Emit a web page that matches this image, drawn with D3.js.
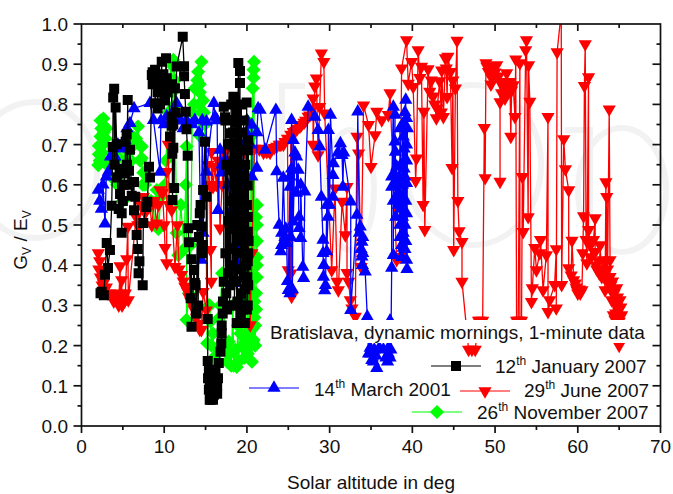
<!DOCTYPE html>
<html><head><meta charset="utf-8">
<script src="https://cdn.jsdelivr.net/npm/d3@7/dist/d3.min.js"></script>
<style>html,body{margin:0;padding:0;background:#fff}svg{display:block}text{font-family:"Liberation Sans",Arial,sans-serif;fill:#111}</style>
</head><body><svg id="c" width="673" height="494"></svg>
<script>
// [solar altitude, Gv/Ev] pairs
const november2007 = [[2.03,.649],[2.1,.676],[2.1,.697],[2.3,.72],[2.4,.74],[2.64,.765],[2.8,.745],[2.9,.715],[2.5,.68],[2.8,.655],[3.6,.62],[4.3,.6],[5,.56],[5.5,.7],[6.2,.72],[6.83,.745],[6.6,.715],[7.28,.695],[7.28,.666],[7.47,.63],[7.67,.6],[8.4,.56],[9.09,.587],[9.6,.57],[10.2,.66],[10.5,.78],[10.7,.86],[11.1,.911],[11.3,.86],[11.5,.48],[11.7,.425],[12,.55],[12.4,.44],[12.7,.695],[12.7,.264],[13,.33],[13.4,.78],[13.7,.84],[14.1,.881],[14.5,.906],[14.3,.85],[14.7,.81],[14.5,.78],[14.9,.75],[15.2,.206],[15.5,.3],[15.9,.23],[16.35,.194],[16.8,.3],[17,.38],[17.4,.2],[17.95,.18],[18.3,.3],[18.77,.147],[18.9,.25],[19.4,.197],[19.7,.32],[19.9,.22],[20.2,.36],[20.6,.16],[20.8,.214],[20.8,.866],[20.8,.886],[20.86,.906],[20.6,.5],[21,.25],[20.9,.27],[21.1,.33],[21.2,.37],[21.2,.42],[21.2,.46],[21.2,.5],[21.2,.55]];
const novemberMore = [[15.6,.26],[15.7,.2],[16,.17],[15.4,.3],[17.6,.16],[17.8,.21],[18.1,.15],[18.4,.15],[18.6,.19],[19,.16],[19.2,.23],[19.7,.17],[20.1,.18],[20.4,.2],[20.6,.24],[21,.2],[20.9,.31],[21.1,.29],[21.2,.4],[21.1,.52],[16.7,.27],[17.2,.3],[2.2,.66],[2.6,.7],[2.7,.73],[3,.74],[2.3,.76],[4.4,.67],[4.8,.63],[5.3,.66],[5.7,.68],[6,.66],[6.4,.7],[7,.7],[7.1,.66],[7.4,.6],[8.8,.5],[9.3,.49],[10.1,.6],[10.8,.9],[11,.83],[11.3,.8],[13.6,.8],[14,.86],[14.3,.83],[14.2,.8],[14.8,.78],[14.4,.72],[12.6,.6],[13.2,.45],[20.7,.84],[20.75,.74],[20.5,.72],[20,.76],[19.9,.48],[19.8,.55],[20.2,.62]];
const june2007 = [[2.03,.43],[2.2,.41],[2.4,.385],[2.64,.355],[3,.345],[3.44,.33],[3.84,.318],[4.1,.325],[4.4,.31],[4.7,.33],[5.03,.305],[5.3,.33],[5.66,.313],[4.86,.363],[4.66,.398],[5.46,.415],[5.6,.496],[6.8,.5],[7.47,.57],[8.28,.545],[9.09,.504],[9.49,.587],[10.1,.443],[10.3,.405],[10.3,.632],[10.5,.7],[10.9,.537],[11.3,.396],[11.6,.5],[12.1,.376],[12.5,.347],[13,.32],[13.6,.29],[14.5,.239],[14.7,.334],[15.1,.288],[15.6,.438],[15.7,.359],[15.7,.682],[15.9,.595],[16.1,.645],[16.75,.492],[17.55,.662],[17.95,.703],[18.77,.7],[19.5,.69],[20.4,.251],[20.6,.43],[21.5,.688],[22.2,.686],[22.4,.682],[23,.688],[23.6,.695],[24.1,.7],[24.6,.707],[25,.388],[25.3,.38],[25.4,.322],[25.6,.732],[26.1,.74],[26.6,.749],[27.1,.76],[27.6,.773],[28,.815],[28,.7],[28.2,.845],[28.4,.865],[28.6,.674],[28.8,.794],[29,.927],[29.3,.906],[29.4,.778],[30.25,.388],[30.65,.591],[30.9,.359],[31.05,.338],[31.5,.558],[31.9,.475],[32.1,.595],[32.1,.381],[32.3,.359],[32.5,.313],[32.7,.293],[33.1,.272],[33.3,.72],[33.5,.678],[33.8,.396],[34.1,.798],[34.7,.749],[35,.645],[35.5,.724],[35.7,.782],[36.3,.761],[37.1,.774],[37.3,.828],[38.1,.413],[38.5,.421],[38.7,.89],[39.3,.96],[39.5,.852],[39.9,.906],[40.1,.844],[40.4,.61],[40.5,.666],[40.7,.935],[40.9,.866],[41.1,.894],[41.3,.55],[41.4,.782],[41.5,.488],[41.9,.888],[42.1,.832],[42.5,.82],[42.9,.766],[43.3,.858],[43.55,.885],[43.75,.769],[44,.915],[44.2,.819],[44.3,.919],[44.6,.881],[44.8,.642],[45,.438],[45.2,.84],[45.4,.959],[45.5,.56],[45.65,.485],[46,.458],[46,.359],[47.2,.19],[48.2,.262],[48.7,.742],[48.8,.617],[48.9,.903],[49.2,.881],[49.6,.866],[50.2,.898],[50.6,.856],[50.6,.608],[50.6,.806],[50.8,.828],[51.2,.815],[51.4,.878],[51.8,.856],[51.9,.72],[52.2,.848],[52.4,.769],[52.5,.912],[52.8,.262],[53,.903],[53.3,.62],[53.4,.483],[53.7,.935],[53.8,.96],[54,.52],[54.05,.898],[54.2,.807],[54.4,.309],[54.5,.343],[54.8,.443],[55,.388],[55.4,.43],[55.5,.463],[55.8,.338],[56.2,.425],[56.4,.769],[56.4,.284],[56.6,.313],[57.2,.351],[57.4,.44],[57.4,.293],[57.5,.93],[58,1.03],[58.05,.351],[58.3,.714],[58.5,.639],[58.9,.587],[58.9,.393],[59.3,.461],[59.5,.363],[59.9,.338],[60.2,.34],[60.5,.338],[60.6,.43],[60.7,.522],[60.8,.846],[60.9,.95],[61,.463],[61.1,.405],[61.3,.868],[61.3,.488],[61.9,.463],[62.1,.517],[62.1,.433],[62.2,.4],[62.7,.45],[62.9,.371],[63.1,.413],[63.3,.338],[63.4,.607],[63.5,.57],[63.8,.788],[63.9,.413],[63.9,.371],[64,.338],[64.1,.313],[64.3,.276],[64.7,.343],[64.7,.297],[65,.2],[65.1,.313],[65.1,.27],[65.3,.276]];
const juneMore = [[21.8,.69],[22.8,.68],[23.3,.692],[23.9,.7],[24.4,.7],[24.9,.715],[25.3,.725],[25.9,.735],[26.4,.745],[26.9,.755],[27.4,.77],[27.8,.785],[22,.68],[22.6,.685],[2.1,.39],[2.3,.37],[2.5,.35],[2.8,.34],[3.2,.33],[3.6,.325],[3.9,.31],[4.2,.315],[4.5,.3],[4.9,.3],[5.2,.31],[6.6,.52],[7,.5],[7.2,.55],[7.7,.53],[8,.56],[8.5,.5],[8.8,.56],[9.3,.55],[9.8,.58],[10,.5],[10.6,.55],[11.8,.39],[12.3,.36],[12.8,.335],[13.2,.31],[13.9,.27],[14.2,.255],[14.3,.24],[15.3,.65],[15.5,.6],[16.3,.6],[16.5,.66],[17,.6],[17.2,.68],[18.2,.69],[18.5,.68],[19,.69],[19.8,.68],[20,.69],[20.9,.69],[64.2,.36],[64.4,.33],[64.5,.31],[64.6,.28],[64.8,.32],[64.9,.29],[65.2,.295],[65,.26],[64.5,.265],[64,.35],[63.6,.36],[63.2,.37],[63.6,.39],[63.4,.41],[62.5,.41],[62.6,.38],[62.3,.39],[61.6,.42],[61.5,.45],[59.8,.345],[60,.33],[60.3,.33],[59.7,.355],[59.2,.375],[50,.88],[49.4,.89],[49.8,.875],[50.4,.87],[50.9,.855],[51.1,.84],[51.5,.85],[52,.835],[51.6,.83],[49,.895],[49.5,.85],[47.6,.19],[46.8,.19],[48,.262],[48.5,.262],[52.6,.262],[53,.262],[53.2,.262],[42.3,.86],[42.7,.8],[43,.79],[43.5,.78],[44.1,.89],[44.9,.86]];
const march2001 = [[2.03,.587],[2.2,.56],[2.4,.54],[2.84,.503],[3.24,.632],[4.05,.67],[5.26,.711],[5.86,.753],[6.35,.79],[8.28,.803],[8.7,.761],[9.5,.632],[10.3,.77],[11.5,.803],[11.7,.76],[13.7,.761],[14.5,.413],[14.7,.48],[15.1,.757],[15.1,.632],[16.15,.769],[16,.803],[16.5,.537],[16.75,.687],[16.95,.63],[17.35,.662],[18.4,.355],[18.6,.632],[18.77,.409],[19.2,.463],[20.6,.749],[21.2,.642],[21.2,.73],[21.35,.79],[21.6,.786],[22.2,.687],[23.5,.786],[23.6,.633],[23.9,.5],[24.1,.434],[24.2,.48],[24.4,.617],[24.8,.455],[24.9,.36],[25,.338],[25.2,.595],[25.4,.761],[25.6,.711],[25.6,.508],[26,.67],[26.2,.637],[26.3,.492],[26.5,.467],[26.75,.396],[26.85,.368],[27,.583],[27.4,.794],[28.2,.769],[28.6,.736],[28.8,.695],[29,.57],[29.2,.463],[29.25,.371],[29.4,.337],[29.65,.55],[29.65,.434],[29.85,.736],[30.1,.774],[30.4,.624],[30.45,.653],[31.3,.703],[31.5,.674],[31.6,.595],[32.55,.558],[32.55,.288],[33.3,.525],[33.4,.782],[33.7,.496],[33.9,.458],[33.9,.421],[34.3,.384],[34.55,.272],[34.9,.194],[35.1,.164],[35.7,.144],[36,.194],[37.1,.194],[37.1,.18],[37.3,.262],[37.5,.393],[37.5,.62],[37.5,.595],[37.7,.794],[37.7,.425],[37.9,.774],[37.9,.707],[37.95,.682],[38.1,.645],[38.3,.57],[38.3,.55],[38.5,.5],[38.9,.443],[39,.64],[39.1,.62],[39.2,.811],[39.3,.766],[39.3,.604],[39.3,.529],[39.3,.413],[39.35,.39],[38.9,.72],[39,.69]];
const marchMore = [[38.2,.6],[38.4,.62],[38.6,.65],[38.7,.57],[38.8,.6],[38.6,.54],[38.8,.52],[38.5,.47],[38.7,.45],[38.9,.48],[38.7,.42],[39.1,.44],[39.1,.5],[39.2,.56],[39.3,.66],[39.3,.7],[39.4,.74],[39.1,.78],[38.8,.75],[38.5,.74],[39.2,.46],[38.3,.58],[38.1,.6],[38,.52],[37.8,.6],[37.7,.56],[34.7,.18],[35,.18],[35.3,.16],[35.4,.19],[35.6,.175],[36.5,.19],[36.8,.17],[37.3,.17],[37,.16],[37.4,.19],[24.2,.45],[24.6,.47],[25.2,.33],[25.3,.47],[25.5,.34],[25.4,.64],[25.2,.62],[25.8,.68],[26,.58],[24.7,.49],[26.3,.52],[26.5,.6],[29.2,.43],[29.3,.4],[29.5,.35],[29.8,.52],[30,.55],[30.4,.57],[31,.68],[31.7,.68],[33.6,.48],[33.8,.44],[33.95,.4],[34,.43],[34,.47],[9.6,.76],[10,.75],[10.8,.77],[11,.78],[12,.76],[12.3,.74],[12.7,.76],[13.3,.75],[14.2,.73],[14.6,.76],[16.4,.76],[17,.65],[17.7,.6],[18.2,.54],[18.5,.45],[18.8,.39],[19,.43],[19.6,.7],[19.9,.73],[20,.76],[20.4,.7],[20.6,.62],[2.6,.6],[3,.62],[3.5,.67],[4.4,.7],[4.7,.69],[5,.7],[5.5,.74]];
const january2007 = [[2.44,.334],[2.3,.33],[2.7,.325],[2.84,.376],[3.05,.455],[3.2,.393],[3.44,.438],[3.65,.548],[3.78,.694],[3.83,.817],[3.95,.839],[4.13,.792],[4.25,.701],[4.33,.618],[4.66,.577],[4.86,.529],[4.86,.481],[5.26,.628],[5.34,.707],[5.46,.726],[5.59,.811],[5.74,.635],[5.86,.687],[6.07,.573],[6.35,.607],[6.35,.537],[6.67,.475],[6.8,.44],[6.9,.38],[7,.41],[7.4,.35],[7.47,.505],[7.8,.545],[7.96,.558],[8.16,.645],[8.28,.618],[8.5,.873],[8.6,.85],[8.89,.886],[8.89,.803],[9.2,.83],[9.7,.906],[9.9,.875],[10.22,.915],[10.3,.865],[10.7,.72],[10.9,.769],[10.9,.747],[10.98,.677],[11,.562],[11.1,.692],[11.2,.592],[11.5,.894],[12.24,.968],[12.4,.895],[12.4,.87],[12.5,.826],[12.6,.782],[12.7,.738],[12.84,.672],[12.9,.492],[13,.457],[13.2,.318],[13.3,.415],[13.3,.247],[13.6,.388],[13.7,.356],[13.9,.28],[14.3,.529],[14.5,.496],[14.66,.45],[14.7,.587],[14.93,.707],[15.1,.57],[15.26,.266],[15.26,.162],[15.3,.119],[15.4,.09],[15.5,.065],[15.7,.07],[16,.078],[16.3,.09],[16.5,.119],[16.6,.157],[16.8,.185],[16.9,.206],[16.95,.231],[16.95,.25],[17.07,.28],[17.1,.31],[17.2,.359],[17.2,.794],[17.35,.768],[17.4,.76],[17.4,.43],[17.75,.38],[17.95,.728],[18.04,.703],[18.16,.637],[18.36,.819],[18.4,.565],[18.56,.761],[18.6,.755],[18.7,.6],[18.77,.256],[18.85,.31],[18.96,.903],[18.96,.687],[19.16,.883],[19.16,.853],[19.16,.575],[19.16,.5],[19.3,.33],[19.5,.29],[19.77,.256],[19.97,.805],[20.1,.686],[20.1,.598],[20.1,.483],[20.17,.711],[20.15,.43],[20.1,.41],[20.15,.35],[20.1,.3]];
const januaryMore = [[17.5,.33],[17.6,.29],[17.9,.3],[18,.35],[18.2,.4],[18.3,.44],[18.5,.3],[18.6,.36],[18.8,.43],[19,.46],[19.2,.28],[19.3,.39],[19.4,.43],[19.6,.37],[19.7,.47],[19.8,.34],[19.9,.4],[20,.29],[20.05,.37],[20.2,.46],[17.8,.51],[18,.56],[18.3,.52],[18.5,.49],[18.8,.54],[19,.62],[19.4,.73],[19.6,.76],[19.8,.65],[20,.55],[20.1,.52],[18.3,.73],[18.6,.8],[18.8,.78],[19.3,.8],[18.1,.8],[17.7,.7],[17.5,.65],[15.4,.14],[15.5,.11],[15.6,.085],[15.8,.1],[15.9,.12],[16.1,.11],[16.2,.14],[16.4,.08],[16.4,.1],[15.6,.065],[15.9,.065],[8.6,.88],[9,.855],[9.3,.87],[9.5,.85],[9.7,.83],[10,.85],[10.1,.81],[10.4,.83],[10.6,.84],[9.2,.79],[9.5,.8],[10.9,.85],[11.3,.84],[11.4,.78],[11.1,.75],[14,.5],[14.2,.47],[14.4,.55],[14.6,.43],[13.8,.35],[14.1,.3],[6.5,.57],[5.1,.6],[5.5,.65],[5.6,.6],[4.6,.64],[4,.65],[4.5,.54],[5,.56]];
const xTicks = [0,10,20,30,40,50,60,70];
const yTicks = [0,.1,.2,.3,.4,.5,.6,.7,.8,.9,1];
const titleText = "Bratislava, dynamic mornings, 1-minute data";

const svg = d3.select("#c");
const x = d3.scaleLinear().domain([0,70]).range([81.5,660.5]);
const y = d3.scaleLinear().domain([0,1]).range([426,24]);
const gen = (t,s)=>d3.symbol().type(t).size(s)();
const symbols = {
  square:{d:gen(d3.symbolSquare,100),r:0},
  up:{d:gen(d3.symbolTriangle,76),r:0},
  down:{d:gen(d3.symbolTriangle,76),r:180},
  diamond:{d:gen(d3.symbolSquare,100),r:45}
};
// pale watermark
const wm = svg.append("g").attr("fill","none").attr("stroke","#f2f2f2").attr("stroke-width",6);
[[35,170,62,68],[350,190,24,60],[473,165,68,80],[622,190,44,62]].forEach(e=>wm.append("ellipse").attr("cx",e[0]).attr("cy",e[1]).attr("rx",e[2]).attr("ry",e[3]));
wm.append("path").attr("d",d3.line()([[282,230],[282,86],[305,86]]));
wm.append("path").attr("d",d3.line()([[565,130],[590,130],[590,215]]));

svg.append("defs").append("clipPath").attr("id","plot").append("rect").attr("x",81.5).attr("y",24).attr("width",579).attr("height",402);
const plot = svg.append("g").attr("clip-path","url(#plot)");
const line = d3.line().x(d=>x(d[0])).y(d=>y(d[1]));
function series(data,color,sym){
  const sorted = data.slice().sort((a,b)=>d3.ascending(a[0],b[0]));
  const g = plot.append("g");
  g.append("path").attr("d",line(sorted)).attr("fill","none").attr("stroke",color).attr("stroke-width",1.3);
  g.selectAll("path.m").data(sorted).join("path").attr("class","m").attr("d",sym.d).attr("fill",color)
    .attr("transform",d=>`translate(${x(d[0])},${y(d[1])}) rotate(${sym.r})`);
}
series(november2007.concat(novemberMore),"#00ff00",symbols.diamond);
series(june2007.concat(juneMore),"#ff0000",symbols.down);
series(march2001.concat(marchMore),"#0000ff",symbols.up);
series(january2007.concat(januaryMore),"#000000",symbols.square);

// label box hides the marks behind the title
svg.append("rect").attr("x",266).attr("y",320).attr("width",382).attr("height",23).attr("fill","#fff");
svg.append("text").attr("x",270).attr("y",339).attr("font-size",19).text(titleText);

function legend(x0,ym,tx,ty,color,sym,day,rest){
  svg.append("line").attr("x1",x0).attr("x2",x0+50).attr("y1",ym).attr("y2",ym).attr("stroke",color).attr("stroke-width",1.1);
  svg.append("path").attr("d",sym.d).attr("fill",color).attr("transform",`translate(${x0+25},${ym}) rotate(${sym.r})`);
  const t = svg.append("text").attr("x",tx).attr("y",ty).attr("font-size",19);
  t.append("tspan").text(day);
  t.append("tspan").attr("font-size",12).attr("dy",-8).text("th");
  t.append("tspan").attr("dy",8).text(" "+rest);
}
legend(431,366,495,373,"#000",symbols.square,"12","January 2007");
legend(249,388,314,396,"#00f",symbols.up,"14","March 2001");
legend(460,391,524,397,"#f00",symbols.down,"29","June 2007");
legend(412,412,477,419,"#0f0",symbols.diamond,"26","November 2007");

// frame and ticks
const ink="#111";
const frame = svg.append("g").attr("stroke",ink).attr("stroke-width",1.7).attr("fill","none");
frame.append("rect").attr("x",81.5).attr("y",24).attr("width",579).attr("height",402);
d3.range(0,71,5).forEach(v=>{
  const major=v%10===0;
  frame.append("line").attr("x1",x(v)).attr("x2",x(v)).attr("y1",426).attr("y2",426+(major?7:4));
  if(v>0&&v<70) frame.append("line").attr("x1",x(v)).attr("x2",x(v)).attr("y1",24).attr("y2",24+(major?7:4));
});
d3.range(0,21).forEach(i=>{
  const v=i/20, major=i%2===0;
  frame.append("line").attr("y1",y(v)).attr("y2",y(v)).attr("x1",81.5).attr("x2",81.5-(major?8:4));
  if(i>0&&i<20) frame.append("line").attr("y1",y(v)).attr("y2",y(v)).attr("x1",660.5).attr("x2",660.5-(major?8:4));
});
const labels = svg.append("g").attr("font-size",19);
labels.selectAll("text.x").data(xTicks).join("text").attr("class","x").attr("x",d=>x(d)).attr("y",453).attr("text-anchor","middle").text(d=>d);
labels.selectAll("text.y").data(yTicks).join("text").attr("class","y").attr("x",68).attr("y",d=>y(d)+7).attr("text-anchor","end").text(d=>d3.format(".1f")(d));
svg.append("text").attr("x",371).attr("y",489).attr("text-anchor","middle").attr("font-size",19).text("Solar altitude in deg");
const yt = svg.append("text").attr("transform","translate(27,240) rotate(-90)").attr("text-anchor","middle").attr("font-size",19);
yt.append("tspan").text("G");
yt.append("tspan").attr("font-size",12).attr("dy",4).text("V");
yt.append("tspan").attr("dy",-4).text(" / E");
yt.append("tspan").attr("font-size",12).attr("dy",4).text("V");
</script></body></html>
